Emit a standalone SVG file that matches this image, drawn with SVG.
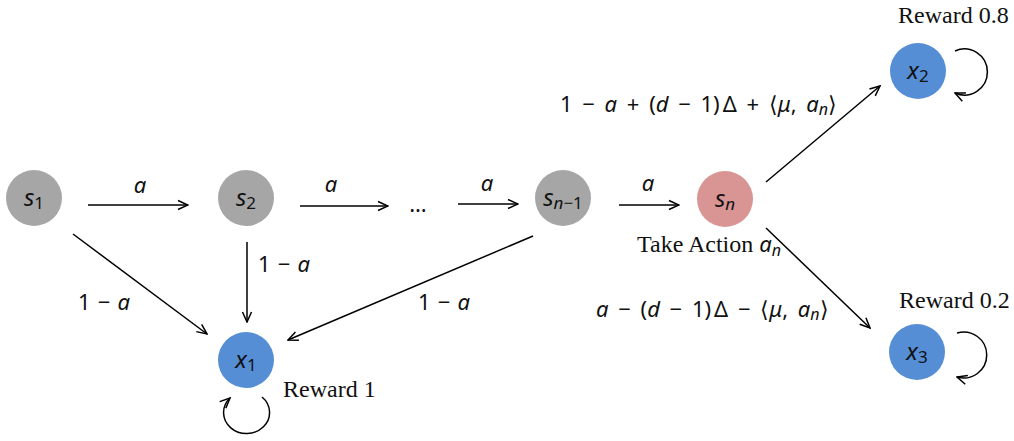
<svg xmlns="http://www.w3.org/2000/svg" width="1014" height="441" viewBox="0 0 1014 441">
<defs>
<marker id="ah" viewBox="0 0 12 12" refX="11" refY="6" markerWidth="12" markerHeight="12" markerUnits="userSpaceOnUse" orient="auto">
<path d="M1,1.5 L11,6 L1,10.5" fill="none" stroke="#000" stroke-width="1.5"/>
</marker>
</defs>
<style>
.gray{fill:#a6a6a6}
.blue{fill:#558ed5}
.pink{fill:#d99594}
.m{font-family:"Noto Sans","Open Sans",sans-serif;font-size:22px;fill:#111}
.i{font-style:italic}
.sub{font-size:16px}
.nl{font-family:"Noto Sans","Open Sans",sans-serif;font-size:24px;fill:#111;text-anchor:middle}
.nl .sub{font-size:17px}
.serif{font-family:"Liberation Serif","Times New Roman",serif;font-size:24px;fill:#111}
.e{fill:none;stroke:#000;stroke-width:1.5;marker-end:url(#ah)}
.w{word-spacing:4px}
.w1{word-spacing:1.5px}
</style>
<g id="s1"><circle class="gray" cx="34" cy="198" r="28"/><text class="nl" x="34" y="206"><tspan class="i">s</tspan><tspan class="sub" dy="3">1</tspan></text></g>
<g id="s2"><circle class="gray" cx="246" cy="198" r="28"/><text class="nl" x="246" y="206"><tspan class="i">s</tspan><tspan class="sub" dy="3">2</tspan></text></g>
<g id="dots"><text class="m" x="418" y="212" text-anchor="middle">…</text></g>
<g id="sn1"><circle class="gray" cx="563" cy="198" r="28"/><text class="nl" x="563" y="206"><tspan class="i">s</tspan><tspan class="sub" dy="3"><tspan class="i">n</tspan>−1</tspan></text></g>
<g id="sn"><circle class="pink" cx="725" cy="199" r="28"/><text class="nl" x="725" y="207"><tspan class="i">s</tspan><tspan class="sub i" dy="3">n</tspan></text>
<text class="serif" x="637" y="252">Take Action <tspan class="m i">a</tspan><tspan class="m i sub" dy="4">n</tspan></text></g>
<g id="x1"><circle class="blue" cx="246" cy="360" r="28"/><text class="nl" x="246" y="368"><tspan class="i">x</tspan><tspan class="sub" dy="3">1</tspan></text>
<text class="serif" x="283" y="397">Reward 1</text></g>
<g id="x2"><circle class="blue" cx="918" cy="71" r="28"/><text class="nl" x="918" y="79"><tspan class="i">x</tspan><tspan class="sub" dy="3">2</tspan></text>
<text class="serif" x="898" y="23">Reward 0.8</text></g>
<g id="x3"><circle class="blue" cx="917" cy="352" r="28"/><text class="nl" x="917" y="360"><tspan class="i">x</tspan><tspan class="sub" dy="3">3</tspan></text>
<text class="serif" x="899" y="308">Reward 0.2</text></g>
<g id="connectors">
<line class="e" x1="88" y1="205" x2="188" y2="205"/>
<line class="e" x1="300" y1="206" x2="388" y2="206"/>
<line class="e" x1="458" y1="204" x2="518" y2="204"/>
<line class="e" x1="619" y1="205" x2="679" y2="205"/>
<line class="e" x1="766" y1="182" x2="880" y2="86"/>
<line class="e" x1="766" y1="228" x2="870" y2="328"/>
<line class="e" x1="73" y1="234" x2="207" y2="334"/>
<line class="e" x1="247" y1="242" x2="247" y2="322"/>
<line class="e" x1="533" y1="236" x2="288" y2="340"/>
<path class="e" d="M262,397 A23,21 0 1 1 230,398"/>
<path class="e" d="M955,51 A23,23 0 1 1 955,93"/>
<path class="e" d="M957,333 A23,23 0 1 1 957,377"/>
</g>
<g id="labels">
<text class="m i" x="140" y="193" text-anchor="middle">a</text>
<text class="m i" x="331" y="192" text-anchor="middle">a</text>
<text class="m i" x="487" y="191" text-anchor="middle">a</text>
<text class="m i" x="648" y="191" text-anchor="middle">a</text>
<text class="m w1" x="78" y="310">1 − <tspan class="i">a</tspan></text>
<text class="m w1" x="258" y="272">1 − <tspan class="i">a</tspan></text>
<text class="m w1" x="418" y="310">1 − <tspan class="i">a</tspan></text>
<text class="m w" x="560" y="112">1 − <tspan class="i">a</tspan> + (<tspan class="i">d</tspan> − 1)<tspan dx="3">Δ</tspan> + ⟨<tspan class="i">μ</tspan>, <tspan class="i">a</tspan><tspan class="sub i" dy="3">n</tspan><tspan dy="-3">⟩</tspan></text>
<text class="m w" x="596" y="317"><tspan class="i">a</tspan> − (<tspan class="i">d</tspan> − 1)<tspan dx="3">Δ</tspan> − ⟨<tspan class="i">μ</tspan>, <tspan class="i">a</tspan><tspan class="sub i" dy="3">n</tspan><tspan dy="-3">⟩</tspan></text>
</g>
</svg>
